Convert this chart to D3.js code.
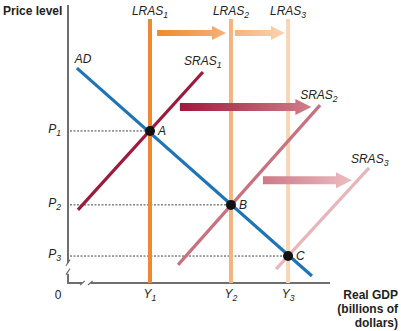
<!DOCTYPE html>
<html><head><meta charset="utf-8">
<script src="https://cdn.jsdelivr.net/npm/d3@7"></script>
<style>body{margin:0;background:#fff}svg{display:block}text{font-family:"Liberation Sans",Arial,sans-serif;fill:#222}</style>
</head><body><div id="c"></div>
<script>
// Data (chart units 0-100)
const outputLevels = [{name:"Y", sub:"1", x:31.3}, {name:"Y", sub:"2", x:62.2}, {name:"Y", sub:"3", x:84.0}];
const priceLevels = [{name:"P", sub:"1", y:54.7}, {name:"P", sub:"2", y:28.1}, {name:"P", sub:"3", y:9.7}];
const lrasColors = ["#EE8A2E", "#F5B47C", "#F8D6B6"];
const lrasTop = 95;
const adLine = [[3.4, 77.3], [93.1, 2.5]];
const srasLines = [
  {label:"1", pts:[[3.8, 26.3], [51.5, 75.9]], color:"#9E1A3C", lx:44.3, ly:78.5},
  {label:"2", pts:[[42.0, 6.5], [96.2, 64.0]], color:"#C8717F", lx:88.6, ly:66.2},
  {label:"3", pts:[[79.4, 5.0], [114.9, 41.4]], color:"#E8B5BA", lx:108.0, ly:43.0}
];
const equilibria = [{label:"A", i:0}, {label:"B", i:1}, {label:"C", i:2}];
const lrasArrows = [
  {x0:34.0, x1:60.3, y:89.9, c0:"#EE8A2E", c1:"#F6B07A"},
  {x0:63.7, x1:82.8, y:89.9, c0:"#F5B47C", c1:"#F9D3B3"}
];
const srasArrows = [
  {x0:42.7, x1:92.9, y:63.3, c0:"#9E1A3C", c1:"#D17D89"},
  {x0:74.4, x1:108.4, y:37.0, c0:"#CC7A86", c1:"#EDBCC1"}
];

const W = 401, H = 331;
const svg = d3.select("#c").append("svg").attr("width", W).attr("height", H);
const x = d3.scaleLinear().domain([0, 100]).range([68, 330]);
const y = d3.scaleLinear().domain([0, 100]).range([283, 5]);
const defs = svg.append("defs");
const FS = 12;

// Axes
const axisColor = "#6e6e6e";
const ax = svg.append("g").attr("stroke", axisColor).attr("stroke-width", 2).attr("fill", "none");
ax.append("line").attr("x1", x(0)).attr("x2", x(0)).attr("y1", y(100)).attr("y2", y(7.2));
ax.append("line").attr("x1", x(0)).attr("x2", x(0)).attr("y1", y(3.3)).attr("y2", y(0)+1);
ax.append("line").attr("x1", x(0)-1).attr("x2", x(5.4)).attr("y1", y(0)).attr("y2", y(0));
ax.append("line").attr("x1", x(8.6)).attr("x2", x(100)).attr("y1", y(0)).attr("y2", y(0));
// break marks
const bm = svg.append("g").attr("stroke", axisColor).attr("stroke-width", 1.2);
bm.append("line").attr("x1", x(0)-2).attr("y1", y(6.2)).attr("x2", x(0)+2).attr("y2", y(8.4));
bm.append("line").attr("x1", x(0)-2).attr("y1", y(3.0)).attr("x2", x(0)+2).attr("y2", y(5.2));
bm.append("line").attr("x1", x(4.6)).attr("y1", y(0)+2).attr("x2", x(6.4)).attr("y2", y(0)-2);
bm.append("line").attr("x1", x(7.6)).attr("y1", y(0)+2).attr("x2", x(9.4)).attr("y2", y(0)-2);

// Dotted guide lines
const lvl = svg.append("g");
priceLevels.forEach((p, i) => {
  lvl.append("line").attr("x1", x(0)+2).attr("x2", x(outputLevels[i].x)).attr("y1", y(p.y)).attr("y2", y(p.y))
    .attr("stroke", "#444").attr("stroke-width", 1).attr("stroke-dasharray", "2,1.5");
});

// LRAS lines
outputLevels.forEach((o, i) => {
  svg.append("line").attr("x1", x(o.x)).attr("x2", x(o.x)).attr("y1", y(lrasTop)).attr("y2", y(0))
    .attr("stroke", lrasColors[i]).attr("stroke-width", 4);
});

// arrows
function arrow(a, id, shaft, headW, headL) {
  const g = defs.append("linearGradient").attr("id", id).attr("gradientUnits", "userSpaceOnUse")
    .attr("x1", x(a.x0)).attr("x2", x(a.x1)).attr("y1", 0).attr("y2", 0);
  g.append("stop").attr("offset", 0).attr("stop-color", a.c0);
  g.append("stop").attr("offset", 1).attr("stop-color", a.c1);
  const x0 = x(a.x0), x1 = x(a.x1), yc = y(a.y), hb = x1 - headL;
  const path = d3.path();
  path.moveTo(x0, yc - shaft/2); path.lineTo(hb, yc - shaft/2); path.lineTo(hb, yc - headW/2);
  path.lineTo(x1, yc); path.lineTo(hb, yc + headW/2); path.lineTo(hb, yc + shaft/2);
  path.lineTo(x0, yc + shaft/2); path.closePath();
  svg.append("path").attr("d", path.toString()).attr("fill", `url(#${id})`);
}
lrasArrows.forEach((a, i) => arrow(a, "lg" + i, 6, 14, 14));
srasArrows.forEach((a, i) => arrow(a, "sg" + i, 8, 16, 16));

// SRAS lines
const line = d3.line().x(d => x(d[0])).y(d => y(d[1]));
srasLines.forEach(s => {
  svg.append("path").attr("d", line(s.pts)).attr("stroke", s.color).attr("stroke-width", 3.2).attr("fill", "none");
});
// AD
svg.append("path").attr("d", line(adLine)).attr("stroke", "#1F74B8").attr("stroke-width", 3.2).attr("fill", "none");

// Equilibrium points
equilibria.forEach(e => {
  svg.append("circle").attr("cx", x(outputLevels[e.i].x)).attr("cy", y(priceLevels[e.i].y)).attr("r", 5).attr("fill", "#111");
  svg.append("text").attr("x", x(outputLevels[e.i].x) + 8).attr("y", y(priceLevels[e.i].y) + 4)
    .attr("font-size", FS).attr("font-style", "italic").text(e.label);
});

// Labels
function subText(sel, base, sub, size) {
  sel.append("tspan").text(base);
  sel.append("tspan").attr("font-size", size * 0.72).attr("dy", 3).text(sub);
}
svg.append("text").attr("x", 3).attr("y", 15).attr("font-size", FS).attr("font-weight", "bold").text("Price level");
outputLevels.forEach((o, i) => {
  const t = svg.append("text").attr("x", x(o.x)).attr("y", 15).attr("font-size", FS).attr("font-style", "italic").attr("text-anchor", "middle");
  subText(t, "LRAS", String(i + 1), FS);
  const t2 = svg.append("text").attr("x", x(o.x)).attr("y", 298).attr("font-size", FS).attr("font-style", "italic").attr("text-anchor", "middle");
  subText(t2, o.name, o.sub, FS);
});
priceLevels.forEach(p => {
  const t = svg.append("text").attr("x", 61).attr("y", y(p.y) + 2).attr("font-size", FS).attr("font-style", "italic").attr("text-anchor", "end");
  subText(t, p.name, p.sub, FS);
});
svg.append("text").attr("x", 58).attr("y", 299).attr("font-size", FS).attr("text-anchor", "middle").text("0");
svg.append("text").attr("x", x(2.6)).attr("y", y(79.2)).attr("font-size", FS).attr("font-style", "italic").text("AD");
srasLines.forEach(s => {
  const t = svg.append("text").attr("x", x(s.lx)).attr("y", y(s.ly)).attr("font-size", FS).attr("font-style", "italic");
  subText(t, "SRAS", s.label, FS);
});
const gdp = svg.append("text").attr("font-size", FS).attr("font-weight", "bold").attr("text-anchor", "end");
["Real GDP", "(billions of", "dollars)"].forEach((s, i) => gdp.append("tspan").attr("x", 398).attr("y", 299 + i * 14).text(s));
</script></body></html>
